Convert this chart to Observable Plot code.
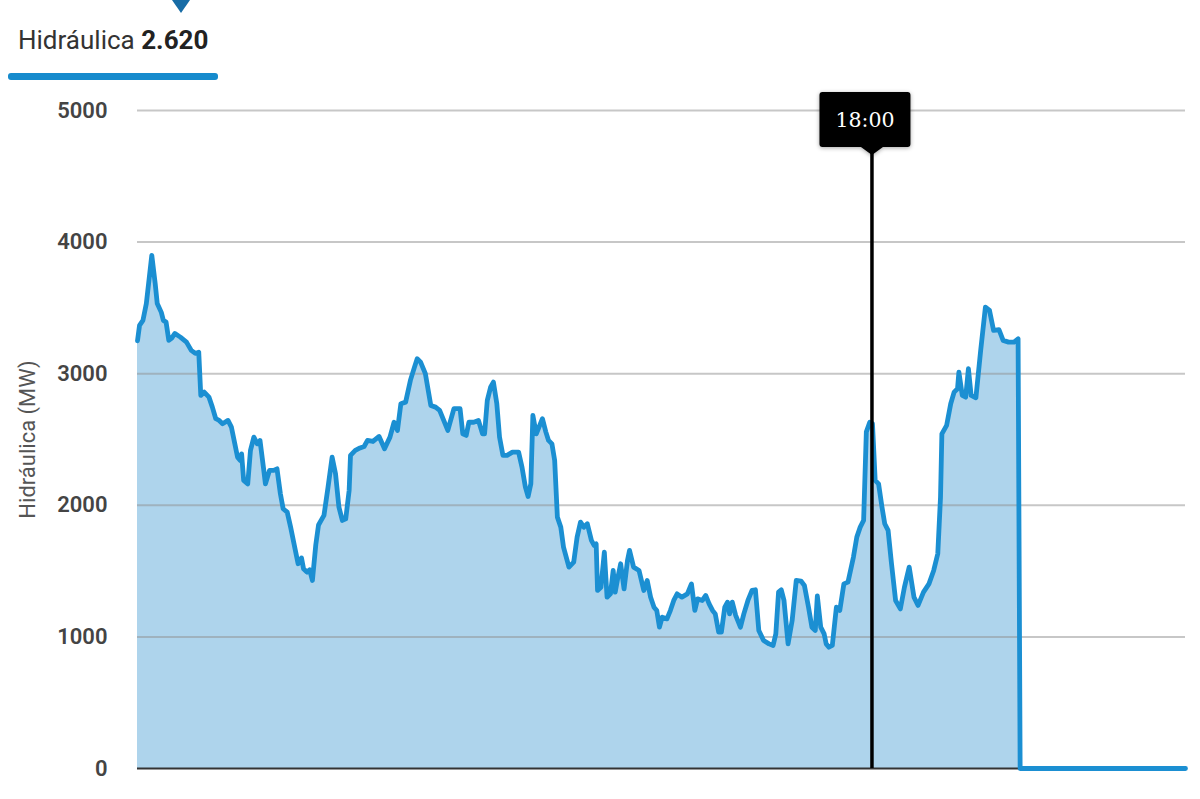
<!DOCTYPE html>
<html><head><meta charset="utf-8">
<script src="https://cdn.jsdelivr.net/npm/d3@7"></script>
<script src="https://cdn.jsdelivr.net/npm/@observablehq/plot@0.6"></script>
<style>
html,body{margin:0;padding:0;background:#fff;}
#wrap{position:relative;width:1200px;height:799px;overflow:hidden;}
#head{position:absolute;left:0;top:0;}
#chart svg g[aria-label="y-axis tick label"] text{font-weight:600;}
#chart svg g[aria-label="y-axis label"] text{font-weight:400;fill:#555;}
</style>
</head><body>
<div id="wrap"><div id="chart"></div><svg id="head" width="240" height="90"></svg></div>
<script>
// minutes since 00:00
const times = [0,3,8,13,21,26,29,35,38,42,46,50,55,63,72,79,85,90,93,98,105,110,115,120,125,133,138,143,147,151,153,156,162,166,171,176,180,185,188,194,200,205,210,214,220,225,232,236,241,244,249,253,257,262,266,274,280,286,291,296,301,306,311,313,320,327,333,338,346,355,363,371,377,382,387,394,401,407,411,416,423,431,438,444,450,456,465,474,478,483,487,494,501,507,510,514,519,523,528,532,537,543,551,560,565,570,574,578,581,586,590,595,600,604,609,613,617,622,626,634,641,646,651,656,661,667,671,674,676,681,686,690,695,699,702,706,710,715,720,723,729,737,744,749,754,759,763,767,771,778,783,788,793,800,808,814,819,823,830,835,840,845,849,854,858,863,867,870,874,879,886,891,897,903,908,913,920,928,934,938,942,946,950,956,962,968,975,980,986,991,996,999,1004,1009,1012,1016,1021,1027,1032,1038,1044,1052,1057,1062,1067,1071,1076,1080,1084,1089,1094,1098,1103,1108,1114,1121,1127,1134,1141,1147,1155,1163,1170,1176,1180,1182,1189,1195,1200,1205,1207,1212,1217,1221,1225,1232,1239,1246,1252,1258,1266,1272,1280,1288,1294,1297,1540];
// Hidráulica (MW)
const values = [3250,3367,3405,3534,3899,3686,3534,3466,3405,3392,3253,3268,3306,3278,3240,3177,3154,3164,2835,2860,2822,2746,2658,2645,2620,2645,2594,2467,2366,2341,2391,2189,2163,2417,2518,2467,2493,2290,2163,2265,2265,2277,2087,1974,1948,1834,1657,1556,1600,1518,1492,1510,1429,1700,1850,1923,2138,2366,2239,1986,1885,1897,2113,2379,2417,2436,2447,2493,2485,2523,2430,2518,2631,2569,2772,2784,2949,3050,3114,3088,3000,2759,2746,2721,2645,2569,2734,2734,2543,2531,2631,2631,2645,2543,2543,2797,2900,2936,2772,2518,2379,2379,2404,2404,2290,2138,2067,2163,2683,2543,2594,2658,2558,2493,2467,2341,1910,1834,1682,1530,1568,1758,1872,1834,1860,1733,1695,1707,1353,1378,1644,1302,1327,1505,1340,1454,1556,1365,1581,1657,1530,1505,1353,1429,1302,1226,1201,1074,1150,1137,1200,1277,1327,1302,1327,1403,1201,1289,1277,1315,1251,1201,1175,1036,1036,1226,1264,1175,1264,1163,1074,1175,1277,1353,1358,1049,973,947,935,1023,1340,1358,1277,947,1125,1429,1424,1391,1226,1074,1049,1311,1074,1023,947,922,935,1226,1201,1403,1416,1606,1758,1834,1885,2558,2631,2620,2189,2163,1986,1860,1809,1556,1277,1213,1378,1530,1302,1239,1340,1403,1505,1632,2062,2543,2607,2772,2860,2886,3012,2835,2822,3038,2835,2817,3177,3506,3481,3329,3334,3253,3240,3240,3265,0,0];
const yTicks = [0,1000,2000,3000,4000,5000];
const xDomain = [0,1540];
const seriesName = "Hidráulica";
const yLabel = "Hidráulica (MW)";
const highlightLabel = "18:00";
const highlightTime = 1080;

const data = times.map((t,i)=>({t, v: values[i]}));
const highlight = data.find(d=>d.t===highlightTime);
const fmt = d3.formatLocale({decimal:",",thousands:".",grouping:[3],currency:["","€"]}).format(",.0f");

const lineColor = "#1b8fd2";
const areaColor = "#aed4ec";

const tipMark = Plot.ruleX([highlight], {
  x: "t",
  render(index, scales, values, dimensions) {
    const px = scales.x(highlight.t);
    const y0 = scales.y(0);
    const top = dimensions.marginTop - 18;
    const bw = 91, bh = 55, r = 3, cx = px - 7;
    const g = d3.create("svg:g");
    g.append("line").attr("x1",px).attr("x2",px).attr("y1",top+bh).attr("y2",y0)
      .attr("stroke","#000").attr("stroke-width",3.5);
    const L = cx-bw/2, R = cx+bw/2, T = top, B = top+bh;
    const p = d3.path();
    p.moveTo(L+r,T); p.lineTo(R-r,T); p.arcTo(R,T,R,T+r,r); p.lineTo(R,B-r); p.arcTo(R,B,R-r,B,r);
    p.lineTo(px+11,B); p.lineTo(px,B+8); p.lineTo(px-11,B);
    p.lineTo(L+r,B); p.arcTo(L,B,L,B-r,r); p.lineTo(L,T+r); p.arcTo(L,T,L+r,T,r); p.closePath();
    g.append("path").attr("d",p.toString()).attr("fill","#000")
      .style("filter","drop-shadow(0px 1px 2px rgba(0,0,0,0.35))");
    g.append("text").attr("x",cx).attr("y",top+35).attr("text-anchor","middle")
      .attr("fill","#fff").attr("font-family","'DejaVu Serif', serif").attr("font-size",20.5)
      .text(highlightLabel);
    return g.node();
  }
});

const chart = Plot.plot({
  width: 1200,
  height: 799,
  marginLeft: 137,
  marginRight: 15,
  marginTop: 110,
  marginBottom: 31,
  style: {fontFamily: "Roboto, sans-serif", color: "#444", background: "#fff"},
  x: {domain: xDomain, axis: null},
  y: {domain: [0,5000]},
  marks: [
    Plot.areaY(data, {x:"t", y:"v", fill: areaColor, curve: "linear"}),
    Plot.gridY(yTicks.filter(d=>d>0), {stroke:"#909090", strokeOpacity:0.5, strokeWidth:2}),
    Plot.ruleY([0], {stroke:"#333", strokeWidth:2}),
    Plot.lineY(data, {x:"t", y:"v", stroke: lineColor, strokeWidth: 4.8, strokeLinejoin:"round", strokeLinecap:"round"}),
    Plot.axisY({ticks: yTicks, tickSize: 0, tickPadding: 30, fontSize: 22, label: yLabel, labelAnchor: "center", labelArrow: "none", labelOffset: 118, tickFormat: d=>String(d)}),
    tipMark
  ]
});
document.getElementById("chart").appendChild(chart);

// header
const head = d3.select("#head");
head.append("path").attr("d","M172,0 L190,0 L181,13 Z").attr("fill","#176ca6");
const ht = head.append("text").attr("x",18).attr("y",49).attr("font-family","Roboto, sans-serif").attr("font-size",26).attr("fill","#333");
ht.append("tspan").text(seriesName + " ");
ht.append("tspan").attr("font-weight",700).attr("fill","#222").text(fmt(highlight.v));
head.append("rect").attr("x",8).attr("y",73).attr("width",210).attr("height",7).attr("rx",3).attr("fill","#168bcd");
</script>
</body></html>
